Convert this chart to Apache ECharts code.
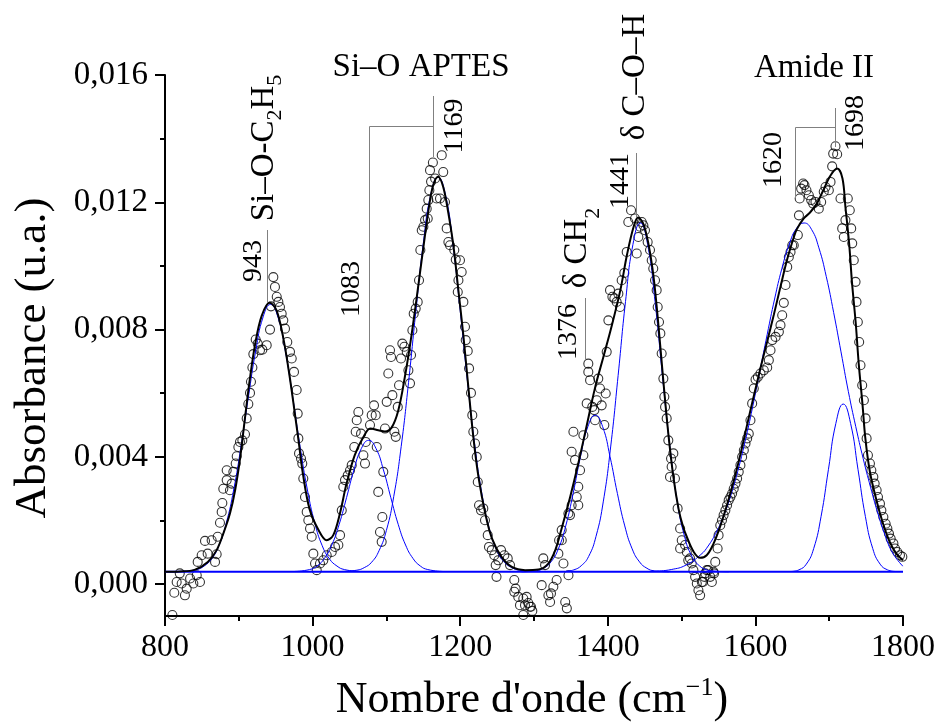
<!DOCTYPE html>
<html><head><meta charset="utf-8">
<script src="https://cdn.jsdelivr.net/npm/echarts@6/dist/echarts.min.js"></script>
<style>html,body{margin:0;padding:0;background:#fff}#c{width:941px;height:724px}</style>
</head><body><div id="c"></div>
<script>
// ---- axis ticks ----
const xRange=[800,1800];
const yRange=[-0.001,0.016];
const yTicks=[0,0.004,0.008,0.012,0.016];
const yMinorTicks=[0.002,0.006,0.010,0.014];

// ---- measured spectrum (open circles) ----
const measured=[
[810,-0.00097],[812.6,-0.00027],[815.8,0.00007],[820,0.00034],[822.6,0.00002],[827,-0.00035],[829.4,-0.00014],[834,0.00018],[838.4,0.00002],[843,0.00028],[847.4,0.00007],[844.3,0.0007],[849.7,0.00091],[854.2,0.00136],[857.8,0.00096],[863.2,0.00138],[867.8,0.0007],[870,0.00094],[871.4,0.00149],[874.5,0.00193],[876.8,0.00227],[877.7,0.00255],[879,0.003],[883.6,0.00327],[883.6,0.00358],[888,0.00295],[890.4,0.00316],[892.6,0.00353],[895.8,0.00379],[897.2,0.00402],[899.4,0.00431],[901.6,0.00447],[904.8,0.00452],[908.4,0.00471],[910.7,0.00521],[912.9,0.00566],[915.2,0.00601],[916.5,0.00636],[918.4,0.00681],[919.7,0.00723],[922.9,0.00769],[925.6,0.00756],[928.7,0.00735],[931.9,0.00737],[937.8,0.00751],[942.3,0.008],[943.6,0.00873],[946.8,0.00965],[949,0.00934],[951.4,0.00903],[953.6,0.00887],[955.8,0.00871],[958.1,0.0085],[960.3,0.00829],[962.6,0.00803],[965.7,0.00761],[969.4,0.0073],[971.7,0.00709],[974.8,0.00667],
[978.4,0.0061],[979.8,0.00536],[980.7,0.00458],[981.6,0.00411],[984.3,0.00395],[986,0.00379],[987.4,0.00332],[989.7,0.00274],[992,0.00227],[994.2,0.00201],[996.5,0.00175],[998.8,0.00149],[1001,0.00096],[1003.3,0.00065],[1005.6,0.00044],[1010,0.00065],[1014.5,0.00075],[1019.1,0.00091],[1025.9,0.00101],[1030.4,0.00117],[1034.9,0.00123],[1037.2,0.00154],[1039.5,0.00232],[1041.6,0.00306],[1043.9,0.00327],[1047.6,0.00342],[1050.7,0.00358],[1053,0.00374],[1056.5,0.00431],[1058.4,0.00479],[1059.8,0.00515],[1062,0.00541],[1065.6,0.00473],[1068.8,0.00405],[1071,0.00379],[1072,0.00447],[1077.8,0.005],[1080.1,0.00531],[1083.2,0.00562],[1085.5,0.00531],[1086.9,0.00431],[1089,0.0029],[1091.3,0.00164],[1093.6,0.00133],[1094.5,0.00211],[1095.8,0.00353],[1098.1,0.00489],[1100.4,0.00573],[1102.6,0.00662],[1104.9,0.00735],[1106.3,0.00714],[1108.1,0.00594],[1110.8,0.00479],[1112.7,0.00463],[1115.4,0.00557],[1117.1,0.00625],[1119.8,0.00709],[1121.6,0.00756],[1124.3,0.00746],[1127.6,0.0073],[1129.8,0.00672],[1132,0.00631],[1133.4,0.0072],[1135.2,0.00798],[1137,0.0085],[1139.7,0.00866],[1142.4,0.00887],[1144.2,0.00955],[1146,0.0105],[1147.9,0.01112],[1150.1,0.01123],[1152.4,0.01144],[1154.6,0.0118],[1156.8,0.01207],[1158.2,0.01238],[1159.1,0.01301],
[1160.5,0.01265],[1163,0.01325],[1166,0.01275],[1175,0.01348],[1177,0.01295],[1168,0.01212],[1172.6,0.01212],[1179.4,0.01201],[1156,0.01149],[1181.7,0.01118],[1184,0.01075],[1186.2,0.01065],[1192,0.0105],[1194,0.0102],[1199.7,0.01018],[1202,0.00981],[1197.6,0.00955],[1196.7,0.00918],[1204.3,0.00887],[1206.5,0.00809],[1207.5,0.00767],[1210.2,0.00733],[1212,0.00678],[1214.6,0.00601],[1216.4,0.00531],[1217.8,0.00479],[1220.1,0.00442],[1222.4,0.004],[1223.8,0.00321],[1225.5,0.00248],[1228.2,0.00232],[1231.3,0.00238],[1233.6,0.00201],[1237.3,0.00154],[1239,0.00117],[1242.7,0.00107],[1246.2,0.00091],[1248.1,0.0006],[1251.6,0.00075],[1255.3,0.00107],[1259.8,0.00091],[1264.4,0.00081],[1267.5,0.0006],[1249.2,0.00023],[1273.3,0.00013],[1275.1,-0.00014],[1273.3,-0.00024],[1278.7,-0.0004],[1281,-0.00066],[1285.5,-0.00045],[1287.8,-0.00066],[1290,-0.0004],[1292.3,-0.00059],[1294.6,-0.00071],[1296,-0.00071],[1297.7,-0.00084],[1285.5,-0.00097],[1310.4,-0.00003],[1312.6,0.00081],[1315,0.0006],[1319.5,-0.00035],[1321.8,-0.00056],[1323,-0.00029],[1326.2,-0.00008],[1330.7,0.00013],[1333,0.00096],[1334,0.00138],
[1337.6,0.00138],[1339.9,0.00065],[1342.3,-0.00056],[1344.5,-0.00076],[1346.7,0.00028],[1337.5,0.0017],[1346.6,0.00222],[1348.8,0.00217],[1351,0.00248],[1353.4,0.00479],[1351,0.00416],[1355.6,0.0039],[1357.9,0.00274],[1360,0.00248],[1360,0.00306],[1362.4,0.00358],[1366.9,0.00405],[1366.9,0.00468],[1371.4,0.00568],[1373.6,0.00693],[1373.6,0.00667],[1376,0.00641],[1379,0.00557],[1381.8,0.00547],[1382.7,0.00515],[1385,0.00578],[1387.1,0.00646],[1389.4,0.00615],[1391.7,0.00562],[1395.3,0.005],[1397.2,0.00599],[1398.5,0.0073],[1400.8,0.00829],[1403,0.00924],[1406.2,0.00903],[1408.9,0.00898],[1412,0.00887],[1414.3,0.00913],[1416.6,0.00871],[1418.8,0.00955],[1422.4,0.00978],[1425.6,0.01044],[1427.8,0.01138],[1431.5,0.01175],[1436.9,0.01149],[1439.2,0.01039],[1441.4,0.01091],[1443.7,0.01123],[1446,0.01138],[1448.2,0.01128],[1450.4,0.01112],[1454,0.01075],[1457.2,0.0105],[1459.5,0.01018],[1461.6,0.00992],[1464,0.00955],[1466.2,0.00924],[1467.6,0.00871],[1469.4,0.00824],[1471.2,0.00788],[1473,0.00725],[1475.3,0.00646],[1476.6,0.00589],[1477.6,0.00557],[1479.8,0.00521],[1482,0.00452],[1485.7,0.00395],[1488.8,0.00411],[1486.5,0.00369],[1484.3,0.00337],[1491,0.00332],[1494.6,0.00238],[1498,0.00175],[1500.2,0.00138],[1498,0.00112],
[1504.7,0.00123],[1507,0.00101],[1509,0.00075],[1511.4,0.00081],[1513.7,0.00065],[1516,0.00044],[1518.3,0.00023],[1520.6,0.00002],[1522.8,-0.00019],[1525.1,-0.00035],[1527.4,0.00007],[1529,0.00007],[1531,0.00023],[1532,0.00034],[1534.2,0.00044],[1536,0.00044],[1538.8,0.00023],[1541,0.00007],[1543.2,0.00039],[1544,0.00034],[1545.6,0.0007],[1548.8,0.00112],[1550.1,0.00154],[1552.4,0.00185],[1554.7,0.00201],[1556.9,0.00217],[1559.3,0.00232],[1561.6,0.00248],[1563.8,0.00264],[1566.1,0.00274],[1568.4,0.00285],[1570.6,0.003],[1573,0.00316],[1575.2,0.00332],[1577.4,0.00353],[1579.7,0.00374],[1582,0.004],[1584.3,0.00421],[1586.6,0.00442],[1588.8,0.00458],[1591,0.00473],[1593.3,0.00515],[1595.6,0.00568],[1597.8,0.00615],[1600.2,0.00643],[1603.3,0.00651],[1606.9,0.00662],[1611.4,0.00672],[1616,0.00681],[1618.2,0.00704],[1620.5,0.00735],[1622.8,0.00767],[1627.3,0.00777],[1631.8,0.00793],[1634,0.00814],[1636.3,0.00845],[1638.5,0.00884],[1640.8,0.0094],[1643.1,0.00997],[1645.3,0.01028],[1647.6,0.01044],[1649.9,0.01065],
[1652,0.01065],[1657.5,0.01097],[1659,0.01159],[1660,0.01212],[1662,0.01243],[1664.7,0.01259],[1666.5,0.01254],[1669.2,0.01238],[1672.4,0.01222],[1675.6,0.01207],[1678.3,0.01196],[1681.4,0.01201],[1685.9,0.0118],[1689.1,0.01201],[1692.6,0.01233],[1695,0.01248],[1699.5,0.01238],[1701.8,0.01264],[1704,0.01313],[1705.4,0.01353],[1708.5,0.01376],[1710.8,0.01351],[1715.3,0.01212],[1717.6,0.01118],[1719.8,0.01091],[1722,0.01144],[1725.2,0.01212],[1727.9,0.01175],[1729.8,0.01118],[1731.2,0.01071],[1733.3,0.01018],[1735.7,0.0095],[1737,0.00887],[1738.8,0.00824],[1740.6,0.00761],[1742.4,0.00688],[1744.7,0.00625],[1747,0.00578],[1749.3,0.00521],[1750.7,0.00458],[1752.5,0.00405],[1755.2,0.00379],[1757.1,0.00358],[1759.8,0.00337],[1761.6,0.00316],[1764.3,0.00295],[1766.1,0.00274],[1768.8,0.00253],[1770.7,0.00232],[1773.4,0.00211],[1776.5,0.0019],[1778.8,0.00175],[1781,0.00159],[1783.3,0.00143],[1787,0.00128],[1789.2,0.00112],[1792.3,0.00101],[1795.9,0.00091],[1799.1,0.00086]
];

// ---- cumulative fit (black) ----
const fitTotal=[
[800,0.00039],[820,0.0004],[840,0.00045],[858,0.0007],[870,0.00107],[879,0.00159],[888,0.00222],[895,0.00295],[902,0.004],[908,0.00515],[915,0.00645],[922,0.00752],[931,0.00843],[942,0.00884],[951,0.00861],[960,0.00777],[969,0.00651],[976,0.00535],[981,0.0045],[987,0.00345],[996,0.00235],[1008,0.0017],[1019,0.00138],[1028,0.00154],[1037,0.00222],[1046,0.00316],[1057,0.00405],[1069,0.00463],[1078,0.00489],[1089,0.00484],[1098,0.0048],[1107,0.00492],[1116,0.00545],[1125,0.00651],[1134,0.00782],[1143,0.00934],[1152,0.01091],[1159,0.01205],[1164,0.01258],[1170,0.0128],[1177,0.01248],[1184,0.01165],[1191,0.0106],[1197,0.00934],[1204,0.00788],[1211,0.0062],[1218,0.00458],[1225,0.00333],[1234,0.00222],[1243,0.00144],[1256,0.00086],[1270,0.00054],[1288,0.00044],[1306,0.00046],[1319,0.00064],[1329,0.00108],[1338,0.0018],[1349,0.00274],[1360,0.00379],[1371,0.00494],[1383,0.0062],[1394,0.00714],[1405,0.00809],[1417,0.00924],[1426,0.01035],[1435,0.01123],[1441,0.01152],[1448,0.01133],[1455,0.0107],[1462,0.00966],[1468,0.00829],[1475,0.00645],[1482,0.00473],[1489,0.00335],[1496,0.00235],[1502,0.0018],[1507,0.00149],[1516,0.00103],[1525,0.00083],[1534,0.00091],[1543,0.00126],[1552,0.0018],[1562,0.00253],[1571,0.00327],[1580,0.00411],[1589,0.00503],[1598,0.00593],[1607,0.0068],[1616,0.00763],[1625,0.00847],[1634,0.00935],[1643,0.0102],[1652,0.0109],[1656,0.01115],[1665,0.01148],[1674,0.01168],[1683,0.01195],[1692,0.01238],[1702,0.01285],[1711,0.01306],[1718,0.01275],[1722,0.01185],[1727,0.01071],[1731,0.00945],[1736,0.00819],[1740,0.00693],[1745,0.00568],[1749,0.00458],[1755,0.00355],[1764,0.00264],[1773,0.0019],[1782,0.00133],[1791,0.00096],[1800,0.00075]
];

// ---- fitted component bands (blue) ----
const band943=[[823,0.0004],[843,0.00046],[853,0.00057],[863,0.00079],[873,0.00121],[883,0.00192],[893,0.00296],[903,0.00433],[913,0.00588],[923,0.00734],[933,0.0084],[943,0.00879],[953,0.0084],[963,0.00734],[973,0.00588],[983,0.00433],[993,0.00296],[1003,0.00192],[1013,0.00121],[1023,0.00079],[1033,0.00057],[1043,0.00046],[1063,0.0004]];
const band1083=[[976,0.0004],[996,0.00046],[1006,0.00057],[1016,0.00081],[1026,0.00123],[1036,0.00188],[1046,0.00272],[1056,0.00359],[1066,0.00426],[1076,0.00452],[1086,0.00426],[1096,0.00359],[1106,0.00272],[1116,0.00188],[1126,0.00123],[1136,0.00081],[1146,0.00057],[1156,0.00046],[1176,0.0004]];
const band1169=[[1040,0.0004],[1060,0.00044],[1070,0.00052],[1080,0.00069],[1090,0.00105],[1100,0.00169],[1110,0.00276],[1120,0.00432],[1130,0.00634],[1140,0.0086],[1150,0.01071],[1160,0.01223],[1170,0.01279],[1180,0.01223],[1190,0.01071],[1200,0.0086],[1210,0.00634],[1220,0.00432],[1230,0.00276],[1240,0.00169],[1250,0.00105],[1260,0.00069],[1270,0.00052],[1280,0.00044],[1300,0.0004]];
const band1376=[[1283,0.00039],[1303,0.00042],[1313,0.0005],[1323,0.0007],[1333,0.00111],[1343,0.00183],[1353,0.00285],[1363,0.00401],[1373,0.00495],[1383,0.00531],[1393,0.00495],[1403,0.00401],[1413,0.00285],[1423,0.00183],[1433,0.00111],[1443,0.0007],[1453,0.0005],[1463,0.00042],[1483,0.00039]];
const band1441=[[1344,0.00041],[1354,0.00045],[1364,0.00058],[1374,0.00087],[1384,0.0015],[1394,0.00261],[1404,0.00434],[1414,0.00656],[1424,0.00888],[1434,0.01067],[1444,0.01135],[1454,0.01067],[1464,0.00888],[1474,0.00656],[1484,0.00434],[1494,0.00261],[1504,0.0015],[1514,0.00087],[1524,0.00058],[1534,0.00045],[1544,0.00041],[1564,0.00039]];
const band1620=[[1466,0.00041],[1486,0.00046],[1506,0.0006],[1526,0.00093],[1536,0.0012],[1546,0.00159],[1556,0.00209],[1566,0.00274],[1576,0.00354],[1586,0.00448],[1596,0.00554],[1606,0.00669],[1616,0.00785],[1626,0.00896],[1636,0.00993],[1646,0.01069],[1656,0.01119],[1666,0.01135],[1676,0.01115],[1686,0.01057],[1696,0.00967],[1706,0.00854],[1716,0.0073],[1726,0.00605],[1736,0.00495],[1746,0.00395],[1756,0.00305],[1766,0.00222],[1776,0.00152],[1786,0.00098],[1800,0.00056]];
const band1698=[[1649,0.0004],[1659,0.00045],[1669,0.00063],[1679,0.00112],[1689,0.00213],[1699,0.00361],[1709,0.00505],[1719,0.00566],[1729,0.00505],[1739,0.00361],[1749,0.00213],[1759,0.00112],[1769,0.00063],[1779,0.00045],[1789,0.0004]];
const baseline=[[800,0.00039],[1800,0.00039]];
const bands=[band943,band1083,band1169,band1376,band1441,band1620,band1698];

const FF='"Liberation Serif","Times New Roman",serif';
const chart=echarts.init(document.getElementById('c'),null,{renderer:'canvas'});
const fmtY=v=>v.toFixed(3).replace('.',',');
const fmtX=v=>String(Math.round(v));

function vtext(x,y,text,size,rich){
  return {type:'text',x:x,y:y,rotation:Math.PI/2,z:50,
    style:{text:text,fontFamily:FF,fontSize:size,fill:'#000',align:'center',verticalAlign:'middle',rich:rich}};
}
function htext(x,y,text,size,rich){
  return {type:'text',x:x,y:y,z:50,
    style:{text:text,fontFamily:FF,fontSize:size,fill:'#000',align:'center',verticalAlign:'middle',rich:rich}};
}
function gline(x1,y1,x2,y2){
  return {type:'line',z:40,shape:{x1:x1,y1:y1,x2:x2,y2:y2},style:{stroke:'#808080',lineWidth:1}};
}
const subRich={
  a:{fontFamily:FF,fontSize:33,lineHeight:38,fill:'#000'},
  s:{fontFamily:FF,fontSize:22,height:15,verticalAlign:'bottom',fill:'#000'}
};
const subRichLow={
  a:{fontFamily:FF,fontSize:33,lineHeight:38,fill:'#000'},
  s:{fontFamily:FF,fontSize:22,height:6,verticalAlign:'bottom',fill:'#000'}
};
const supRich={
  a:{fontFamily:FF,fontSize:44,lineHeight:50,fill:'#000'},
  p:{fontFamily:FF,fontSize:26,height:26,lineHeight:26,verticalAlign:'top',fill:'#000'}
};

const series=[{
  type:'scatter',data:measured,symbol:'circle',symbolSize:9,
  itemStyle:{color:'rgba(0,0,0,0)',borderColor:'#000',borderWidth:1.1},silent:true,z:2
}];
bands.forEach(b=>series.push({type:'line',data:b,smooth:0.5,symbol:'none',lineStyle:{color:'#0000ff',width:1},silent:true,z:3}));
series.push({type:'line',data:baseline,symbol:'none',lineStyle:{color:'#0000ff',width:2},silent:true,z:4});
series.push({type:'line',data:fitTotal,smooth:0.35,symbol:'none',lineStyle:{color:'#000',width:2},silent:true,z:5});

const option={
  animation:false,
  backgroundColor:'#fff',
  grid:{left:165,right:38,top:75,bottom:108,containLabel:false},
  xAxis:{type:'value',min:xRange[0],max:xRange[1],interval:200,
    axisLine:{onZero:false,lineStyle:{color:'#000',width:2}},
    axisTick:{length:10,lineStyle:{color:'#000',width:2}},
    minorTick:{show:true,splitNumber:2,length:5,lineStyle:{color:'#000',width:2}},
    axisLabel:{fontFamily:FF,fontSize:32,color:'#000',margin:16,formatter:fmtX},
    splitLine:{show:false}},
  yAxis:[{type:'value',min:yRange[0],max:yRange[1],
    axisLine:{show:true,onZero:false,lineStyle:{color:'#000',width:2}},
    axisTick:{show:true,length:10,customValues:yTicks,lineStyle:{color:'#000',width:2}},
    axisLabel:{fontFamily:FF,fontSize:33,color:'#000',margin:17,customValues:yTicks,formatter:fmtY},
    splitLine:{show:false}},
   {type:'value',min:yRange[0],max:yRange[1],position:'left',
    axisLine:{show:false},
    axisTick:{show:true,length:5,customValues:yMinorTicks,lineStyle:{color:'#000',width:2}},
    axisLabel:{show:false},splitLine:{show:false}}],
  series:series,
  graphic:[
    gline(267.5,230,267.5,302),
    gline(369.5,126.5,369.5,406),gline(369.5,126.5,433.5,126.5),gline(433.5,96,433.5,157),
    gline(585.5,298,585.5,359),
    gline(636.5,153,636.5,217),
    gline(795.5,127.5,795.5,198),gline(795.5,127.5,835.5,127.5),gline(835.5,108,835.5,147),
    vtext(254,261,'943',28),
    vtext(264,148,'{a|Si–O-C}{s|2}{a|H}{s|5}',33,subRich),
    vtext(352,289,'1083',28),
    vtext(455,126,'1169',28),
    htext(421,67,'Si–O APTES',33),
    vtext(569,332,'1376',28),
    vtext(577,248,'{a|δ CH}{s|2}',33,subRichLow),
    vtext(621,181,'1441',28),
    vtext(635,77,'δ C–O–H',33),
    htext(814,68,'Amide II',33),
    vtext(774,160,'1620',28),
    vtext(856,123,'1698',28),
    vtext(33,358,'Absorbance (u.a.)',45),
    htext(532,700,"{a|Nombre d'onde (cm}{p|−1}{a|)}",44,supRich)
  ]
};
chart.setOption(option);
</script>
</body></html>
